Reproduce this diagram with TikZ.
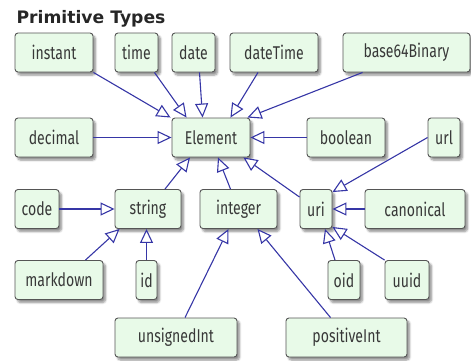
\documentclass[tikz,border=0pt]{standalone}
\usepackage{fontspec}
\setmainfont{Fira Sans}[FakeStretch=0.76]
\newfontfamily\titlefont{DejaVu Sans}
\usetikzlibrary{arrows.meta,shadows.blur}
\definecolor{boxfill}{HTML}{E8FAE8}
\definecolor{boxline}{HTML}{555555}
\definecolor{linkblue}{HTML}{3636A6}
\tikzset{
  typebox/.style={draw=boxline, line width=0.9pt, fill=boxfill, rounded corners=3pt,
    minimum height=39pt, inner sep=0pt, text=black!78, font=\fontsize{18.5}{20}\selectfont,
    blur shadow={shadow xshift=2.5pt, shadow yshift=-3pt, shadow blur steps=6, shadow opacity=45}},
  gen/.style={draw=linkblue, line width=1.1pt,
    -{Triangle[open, fill=white, length=14pt, width=13pt, line width=1.1pt]}}
}
\begin{document}
\begin{tikzpicture}[x=1pt, y=-1pt]
\useasboundingbox (0,0) rectangle (471,360);
\node[anchor=west, font=\titlefont\bfseries\fontsize{17.2}{19}\selectfont, text=black!85] (title) at (13,19) {Primitive Types};
% first row
\node[typebox, minimum width=78pt] (instant) at (54,52.5) {instant};
\node[typebox, minimum width=43pt] (time) at (136.5,52.5) {time};
\node[typebox, minimum width=43pt] (date) at (193.5,52.5) {date};
\node[typebox, minimum width=88pt] (dateTime) at (274,52.5) {dateTime};
\node[typebox, minimum width=127pt] (base64Binary) at (406.5,52.5) {base64Binary};
% second row
\node[typebox, minimum width=78pt] (decimal) at (54,137.5) {decimal};
\node[typebox, minimum width=78pt] (Element) at (211,137.5) {Element};
\node[typebox, minimum width=78pt] (boolean) at (346,137.5) {boolean};
\node[typebox, minimum width=32pt] (url) at (444,137.5) {url};
% third row
\node[typebox, minimum width=44pt] (code) at (37,209) {code};
\node[typebox, minimum width=66pt] (string) at (148,209) {string};
\node[typebox, minimum width=77pt] (integer) at (238.5,209) {integer};
\node[typebox, minimum width=32pt] (uri) at (316,209) {uri};
\node[typebox, minimum width=100pt] (canonical) at (415,209) {canonical};
% fourth row
\node[typebox, minimum width=88pt] (markdown) at (59,280) {markdown};
\node[typebox, minimum width=21pt] (id) at (146.5,280) {id};
\node[typebox, minimum width=32pt] (oid) at (344,280) {oid};
\node[typebox, minimum width=44pt] (uuid) at (407,280) {uuid};
% fifth row
\node[typebox, minimum width=122pt] (unsignedInt) at (176,337.5) {unsignedInt};
\node[typebox, minimum width=121pt] (positiveInt) at (346.5,337.5) {positiveInt};
% specialisations of Element
\draw[gen] (instant.south east) -- ([xshift=-1pt]Element.north west);
\draw[gen] ([xshift=-4pt]time.south east) -- ([xshift=15pt]Element.north west);
\draw[gen] ([xshift=6pt]date.south) -- ([xshift=31pt]Element.north west);
\draw[gen] ([xshift=-16pt]dateTime.south) -- ([xshift=-20pt]Element.north east);
\draw[gen] ([xshift=20pt]base64Binary.south west) -- ([xshift=-3pt]Element.north east);
\draw[gen] (decimal.east) -- (Element.west);
\draw[gen] (boolean.west) -- (Element.east);
\draw[gen] ([xshift=17pt]string.north) -- ([xshift=-21pt]Element.south);
\draw[gen] ([xshift=-8pt]integer.north) -- ([xshift=7pt]Element.south);
\draw[gen] ([yshift=-8pt]uri.north west) -- ([xshift=-7pt]Element.south east);
% specialisations of string
\draw[gen] (code.east) -- (string.west);
\draw[gen] ([xshift=-18pt]markdown.north east) -- ([xshift=5pt]string.south west);
\draw[gen] (id.north) -- (id.north |- string.south);
% specialisations of integer
\draw[gen] ([xshift=9pt]unsignedInt.north) -- ([xshift=-10pt]integer.south);
\draw[gen] ([xshift=-16pt]positiveInt.north) -- ([xshift=19pt]integer.south);
% specialisations of uri
\draw[gen] (url.west) -- ([yshift=-3pt]uri.north east);
\draw[gen] (canonical.west) -- (uri.east);
\draw[gen] ([xshift=-9pt]oid.north) -- ([xshift=9pt]uri.south);
\draw[gen] (uuid.north west) -- ([yshift=2pt]uri.south east);
\end{tikzpicture}
\end{document}
